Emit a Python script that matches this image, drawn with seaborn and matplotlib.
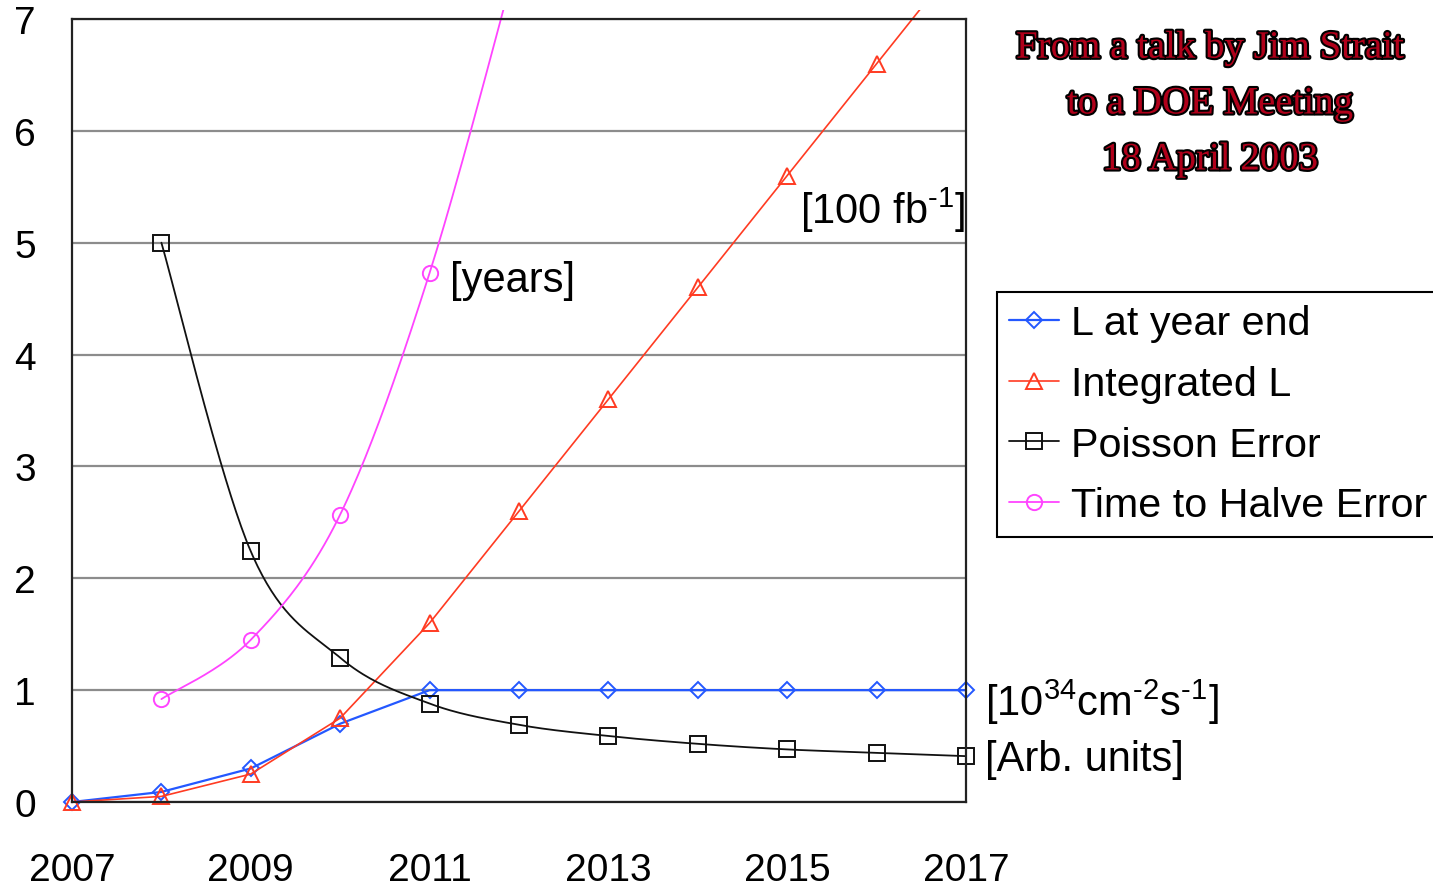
import numpy as np
import pandas as pd
import matplotlib
matplotlib.use("Agg")
import matplotlib.pyplot as plt
import matplotlib.patheffects as pe
from matplotlib.patches import Rectangle
from matplotlib.lines import Line2D
import seaborn as sns

# ---- data ---------------------------------------------------------------
years = [2007, 2008, 2009, 2010, 2011, 2012, 2013, 2014, 2015, 2016, 2017]
lumi_year_end = [0.0, 0.09, 0.30, 0.70, 1.0, 1.0, 1.0, 1.0, 1.0, 1.0, 1.0]
integrated_lumi = [0.0, 0.05, 0.25, 0.75, 1.6, 2.6, 3.6, 4.6, 5.6, 6.6, 7.6]

poisson_years = [2008, 2009, 2010, 2011, 2012, 2013, 2014, 2015, 2016, 2017]
poisson_error = [5.0, 2.24, 1.29, 0.88, 0.69, 0.59, 0.52, 0.47, 0.44, 0.41]

halve_years = [2008, 2009, 2010, 2011, 2012]
halve_time = [0.92, 1.45, 2.57, 4.73, 7.6]

series_labels = ["L at year end", "Integrated L", "Poisson Error", "Time to Halve Error"]
HY = "\u2010"  # short hyphen for the exponents
unit_labels = [f"[100 fb$^{{{HY}1}}$]", "[years]",
               f"[10$^{{34}}$cm$^{{{HY}2}}$s$^{{{HY}1}}$]", "[Arb. units]"]
title_lines = ["From a talk by Jim Strait", "to a DOE Meeting", "18 April 2003"]

# ---- style --------------------------------------------------------------
sns.set_style("white")
plt.rcParams["font.family"] = ["Liberation Sans", "DejaVu Sans"]
plt.rcParams["mathtext.fontset"] = "custom"
plt.rcParams["mathtext.rm"] = "Liberation Sans"
plt.rcParams["mathtext.default"] = "regular"
plt.rcParams["text.color"] = "black"

BLUE = "#2458ff"
RED = "#ff3b22"
BLACK = "#111111"
MAGENTA = "#ff44ff"


def smooth_curve(xs, ys, n=40):
    """Bezier smoothing through every point (spreadsheet-style smoothed line)."""
    pts = np.column_stack([xs, ys]).astype(float)
    out = [pts[0]]
    t = np.linspace(0, 1, n)[1:, None]
    for i in range(len(pts) - 1):
        p0 = pts[i - 1] if i > 0 else pts[i]
        p1, p2 = pts[i], pts[i + 1]
        p3 = pts[i + 2] if i + 2 < len(pts) else pts[i + 1]
        c1 = p1 + (p2 - p0) / 6.0
        c2 = p2 - (p3 - p1) / 6.0
        seg = (1 - t) ** 3 * p1 + 3 * (1 - t) ** 2 * t * c1 + 3 * (1 - t) * t ** 2 * c2 + t ** 3 * p2
        out.extend(seg)
    out = np.array(out)
    return pd.DataFrame({"year": out[:, 0], "value": out[:, 1]})


W, H = 1433, 887
fig = plt.figure(figsize=(W / 100, H / 100), dpi=100)
ax = fig.add_axes([72 / W, 1 - 803 / H, (966 - 72) / W, (803 - 20) / H])

df_main = pd.DataFrame({"year": years, "lumi": lumi_year_end, "integ": integrated_lumi})
df_pois = pd.DataFrame({"year": poisson_years, "value": poisson_error})
df_halve = pd.DataFrame({"year": halve_years, "value": halve_time})

marker_kw = dict(markerfacecolor="none", markeredgewidth=1.4)

sns.lineplot(data=df_main, x="year", y="lumi", ax=ax, color=BLUE, lw=1.6,
             marker="D", markersize=8.5, markeredgecolor=BLUE, **marker_kw)
sns.lineplot(data=df_main, x="year", y="integ", ax=ax, color=RED, lw=1.2,
             marker="^", markersize=12, markeredgecolor=RED, **marker_kw)

sns.lineplot(data=smooth_curve(poisson_years, poisson_error), x="year", y="value",
             ax=ax, color=BLACK, lw=1.3, sort=False, estimator=None)
sns.lineplot(data=df_pois, x="year", y="value", ax=ax, color=BLACK, lw=0,
             marker="s", markersize=11.5, markeredgecolor=BLACK, **marker_kw)

sns.lineplot(data=smooth_curve(halve_years, halve_time), x="year", y="value",
             ax=ax, color=MAGENTA, lw=1.3, sort=False, estimator=None)
sns.lineplot(data=df_halve, x="year", y="value", ax=ax, color=MAGENTA, lw=0,
             marker="o", markersize=11, markeredgecolor=MAGENTA, **marker_kw)

# let markers sit on the frame while cutting lines just above the top
clip = Rectangle((-0.02, -0.03), 1.04, 1.041, transform=ax.transAxes, visible=False)
ax.add_patch(clip)
for ln in ax.lines:
    ln.set_clip_path(clip)

ax.set_xlim(2007, 2017)
ax.set_ylim(0, 7)
ax.set_xticks(years)
ax.set_xticklabels([str(y) if (y - 2007) % 2 == 0 else "" for y in years])
ax.set_yticks(range(8))
ax.set_xlabel("")
ax.set_ylabel("")
ax.tick_params(axis="x", direction="out", length=10, width=1.5, pad=26,
               labelsize=28, color="#333333", labelcolor="black")
ax.tick_params(axis="y", direction="out", length=11, width=1.5, pad=15,
               labelsize=28, color="#333333", labelcolor="black")
ax.yaxis.grid(True, color="#8c8c8c", lw=1.6)
ax.set_axisbelow(True)
for sp in ax.spines.values():
    sp.set_visible(True)
    sp.set_color("#222222")
    sp.set_linewidth(1.6)

# unit annotations next to the curves
txt_kw = dict(fontsize=30, va="center", ha="left", clip_on=False, color="black")
ax.text(2015.14, 5.30, unit_labels[0], **txt_kw)
ax.text(2011.23, 4.67, unit_labels[1], **txt_kw)
ax.text(2017.21, 0.90, unit_labels[2], **txt_kw)
ax.text(2017.21, 0.38, unit_labels[3], **txt_kw)

# legend
handles = [
    Line2D([], [], color=BLUE, lw=1.6, marker="D", markersize=8.5, markeredgecolor=BLUE, **marker_kw),
    Line2D([], [], color=RED, lw=1.2, marker="^", markersize=12, markeredgecolor=RED, **marker_kw),
    Line2D([], [], color=BLACK, lw=1.3, marker="s", markersize=11.5, markeredgecolor=BLACK, **marker_kw),
    Line2D([], [], color=MAGENTA, lw=1.3, marker="o", markersize=11, markeredgecolor=MAGENTA, **marker_kw),
]
leg = fig.legend(handles, series_labels, loc="upper left",
                 bbox_to_anchor=(997 / W, 1 - 293 / H), frameon=True, fancybox=False,
                 edgecolor="black", fontsize=29.7, handlelength=1.2, handletextpad=0.3,
                 labelspacing=0.55, borderpad=0.3, borderaxespad=0)
leg.get_frame().set_linewidth(1.5)
leg.get_frame().set_alpha(1)

# title block in the upper right
title_fx = [pe.withStroke(linewidth=3.0, foreground="black")]
for i, line in enumerate(title_lines):
    fig.text(1210 / W, 1 - (49 + 56 * i) / H, line, ha="center", va="center",
             fontsize=28, family="Liberation Serif", color="#b0001a",
             path_effects=title_fx)

fig.savefig("out.png", dpi=100)
